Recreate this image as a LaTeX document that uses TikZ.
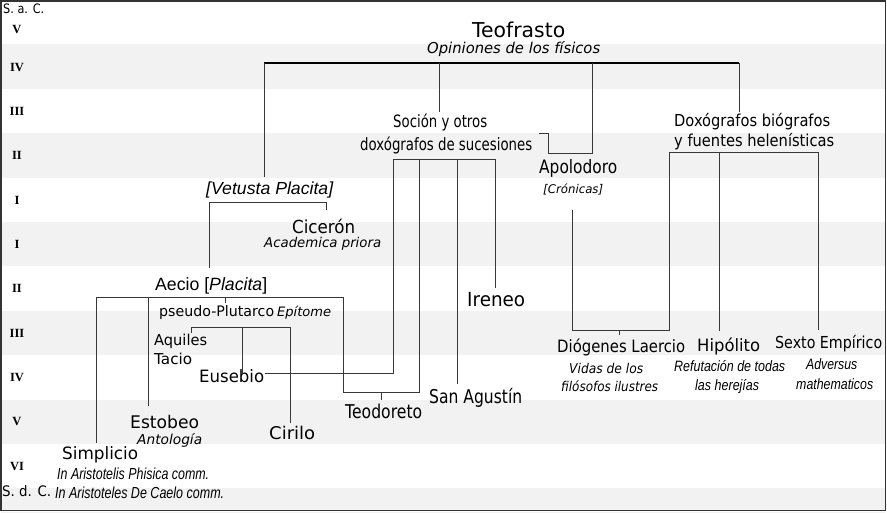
\documentclass[tikz,border=0pt]{standalone}
\usepackage{fontspec}
\usepackage{graphicx}
\setmainfont{DejaVu Sans}
\newfontfamily\libs{Liberation Sans}
\newfontfamily\libr{Liberation Serif}
\newlength\fitlen
\newcommand\fitw[2]{\settowidth{\fitlen}{#2}\pgfmathsetmacro\fitr{#1/\fitlen}\scalebox{\fitr}[1]{#2}}
\newcommand\fs[1]{\fontsize{#1}{#1}\selectfont}
\definecolor{band}{HTML}{F2F2F2}
\definecolor{lnc}{HTML}{383838}
\begin{document}
\begin{tikzpicture}[x=1pt,y=-1pt,
  t/.style={inner sep=0pt, anchor=base west},
  rn/.style={inner sep=0pt, anchor=base, font=\libr\bfseries\fs{12.5}},
  ln/.style={line width=1pt, draw=lnc},
  tbar/.style={line width=2pt, draw=black}]
\useasboundingbox (0,0) rectangle (887,512);
% bands
\foreach \y in {44.4,133.2,222,310.8,399.6,488.4}
  \fill[band] (1,\y) rectangle (885,\y+44.4);
\fill[white] (0,510) rectangle (887,512);
% border
\draw[line width=1.6pt, black!80] (0.8,0.8) rectangle (885.4,510.6);

% century labels
\node[t, font=\fs{13}] (sac) at (3,13) {\fitw{41}{S. a. C.}};
\node[t, font=\fs{14.5}] (sdc) at (2,496) {\fitw{49}{S. d. C.}};
\node[rn] (r1) at (17,33) {V};
\node[rn] (r2) at (17,71) {IV};
\node[rn] (r3) at (17,115) {III};
\node[rn] (r4) at (17,159.5) {II};
\node[rn] (r5) at (17,204) {I};
\node[rn] (r6) at (17,248) {I};
\node[rn] (r7) at (17,292) {II};
\node[rn] (r8) at (17,337) {III};
\node[rn] (r9) at (17,381) {IV};
\node[rn] (r10) at (17,425) {V};
\node[rn] (r11) at (17,470) {VI};

% texts
\node[t, font=\fs{20.5}] (teo) at (472,37) {\fitw{93}{Teofrasto}};
\node[t, font=\fs{15}\itshape] (opin) at (427,53) {\fitw{173}{Opiniones de los físicos}};
\node[t, font=\fs{17}] (soc1) at (393,127) {\fitw{94}{Soción y otros}};
\node[t, font=\fs{17}] (soc2) at (360,150) {\fitw{172}{doxógrafos de sucesiones}};
\node[t, font=\fs{18.5}] (apol) at (539,173) {\fitw{78}{Apolodoro}};
\node[t, font=\fs{12}\itshape] (cron) at (543,193) {\fitw{60}{[Crónicas]}};
\node[t, font=\fs{16.5}] (dox1) at (674,126) {\fitw{156}{Doxógrafos biógrafos}};
\node[t, font=\fs{16.5}] (dox2) at (674,146) {\fitw{160}{y fuentes helenísticas}};
\node[t, font=\libs\fs{17.5}\itshape] (vet) at (206,194) {\fitw{127}{[Vetusta Placita]}};
\node[t, font=\fs{18}] (cic) at (292,233) {\fitw{63}{Cicerón}};
\node[t, font=\fs{13.5}\itshape] (acad) at (264,247) {\fitw{117}{Academica priora}};
\node[t, font=\libs\fs{17.8}] (aecio) at (155,290) {\fitw{112}{Aecio [\textit{Placita}]}};
\node[t, font=\fs{14.5}] (pseudo) at (159,316) {\fitw{115}{pseudo-Plutarco}};
\node[t, font=\fs{13}\itshape] (epit) at (277,316) {\fitw{54}{Epítome}};
\node[t, font=\fs{15}] (aqui) at (154,345) {\fitw{53}{Aquiles}};
\node[t, font=\fs{15}] (tacio) at (154,364) {\fitw{38}{Tacio}};
\node[t, font=\fs{17}] (euse) at (199,382) {\fitw{65}{Eusebio}};
\node[t, font=\fs{17.4}] (esto) at (130,428) {\fitw{69}{Estobeo}};
\node[t, font=\fs{13.7}\itshape] (anto) at (137,444) {\fitw{65}{Antología}};
\node[t, font=\fs{17.5}] (ciri) at (269,439) {\fitw{46}{Cirilo}};
\node[t, font=\fs{17}] (simp) at (62,459) {\fitw{76}{Simplicio}};
\node[t, font=\libs\fs{16}\itshape] (inar1) at (57,479) {\fitw{152}{In Aristotelis Phisica comm.}};
\node[t, font=\libs\fs{16}\itshape] (inar2) at (55,498) {\fitw{169}{In Aristoteles De Caelo comm.}};
\node[t, font=\fs{19}] (teod) at (345,418) {\fitw{77}{Teodoreto}};
\node[t, font=\fs{19}] (agus) at (429,403) {\fitw{93}{San Agustín}};
\node[t, font=\fs{19.5}] (iren) at (467,306) {\fitw{58}{Ireneo}};
\node[t, font=\fs{17}] (diog) at (557,352) {\fitw{128}{Diógenes Laercio}};
\node[t, font=\fs{13.5}\itshape] (vid1) at (569,373) {\fitw{74}{Vidas de los}};
\node[t, font=\fs{13.5}\itshape] (vid2) at (561,391) {\fitw{97}{filósofos ilustres}};
\node[t, font=\fs{17}] (hipo) at (697,351) {\fitw{63}{Hipólito}};
\node[t, font=\libs\fs{15}\itshape] (ref1) at (674,371) {\fitw{111}{Refutación de todas}};
\node[t, font=\libs\fs{15}\itshape] (ref2) at (695,390) {\fitw{64}{las herejías}};
\node[t, font=\fs{16.5}] (sext) at (775,348) {\fitw{107}{Sexto Empírico}};
\node[t, font=\libs\fs{15}\itshape] (adv1) at (806,369) {\fitw{51}{Adversus}};
\node[t, font=\libs\fs{15}\itshape] (adv2) at (796,389) {\fitw{77}{mathematicos}};

% junction coordinates
\coordinate (tL) at (264,63);
\coordinate (tR) at (739,63);
\coordinate (tS) at (439,63);
\coordinate (tA) at (592,63);
\coordinate (vetS) at (264,177);
\coordinate (socN) at (439,112);
\coordinate (doxN) at (739,112);
\coordinate (apA) at (592,153);
\coordinate (apB) at (548,153);
\coordinate (apC) at (548,133);
\coordinate (apD) at (539,133);
\coordinate (vL) at (209,202.5);
\coordinate (vR) at (326,202.5);
\coordinate (cicN) at (326,210);
\coordinate (aecN) at (209,268);
\coordinate (aL) at (96.7,297.5);
\coordinate (aR) at (343,297.5);
\coordinate (aE) at (148.3,297.5);
\coordinate (aP) at (225,297.5);
\coordinate (pseN) at (225,303);
\coordinate (simN) at (96.7,443);
\coordinate (estN) at (148.3,406);
\coordinate (tdA) at (343,392);
\coordinate (tdB) at (419,392);
\coordinate (tdT) at (381,392);
\coordinate (tdN) at (381,400);
\coordinate (sbB) at (419,159.3);
\coordinate (pL) at (191.7,327);
\coordinate (pR) at (290,327);
\coordinate (pM) at (242.3,327);
\coordinate (aquN) at (191.7,333);
\coordinate (eusN) at (242.3,374);
\coordinate (cirN) at (290,423);
\coordinate (eusE) at (265,373);
\coordinate (eusB) at (393.3,373);
\coordinate (sbL) at (393.3,159.3);
\coordinate (sbR) at (495.7,159.3);
\coordinate (sbA) at (457.7,159.3);
\coordinate (irN) at (495.7,288);
\coordinate (agN) at (457.7,384);
\coordinate (crS) at (572.5,210);
\coordinate (dlA) at (572.5,330);
\coordinate (dlB) at (669.3,330);
\coordinate (dlT) at (619.3,330);
\coordinate (dlN) at (619.3,335);
\coordinate (dbL) at (669.3,152.7);
\coordinate (dbR) at (818.3,152.7);
\coordinate (dbH) at (719.3,152.7);
\coordinate (hiN) at (719.3,331);
\coordinate (seN) at (818.3,330);

% connectors
\draw[tbar] (tL) -- (tR);
\draw[ln] (tL) -- (vetS);
\draw[ln] (tS) -- (socN);
\draw[ln] (tA) -- (apA) -- (apB) -- (apC) -- (apD);
\draw[ln] (tR) -- (doxN);
\draw[ln] (aecN) -- (vL) -- (vR) -- (cicN);
\draw[ln] (simN) -- (aL) -- (aR) -- (tdA) -- (tdB) -- (sbB);
\draw[ln] (aE) -- (estN);
\draw[ln] (aP) -- (pseN);
\draw[ln] (tdT) -- (tdN);
\draw[ln] (aquN) -- (pL) -- (pR) -- (cirN);
\draw[ln] (pM) -- (eusN);
\draw[ln] (eusE) -- (eusB) -- (sbL) -- (sbR) -- (irN);
\draw[ln] (sbA) -- (agN);
\draw[ln] (crS) -- (dlA) -- (dlB) -- (dbL) -- (dbR) -- (seN);
\draw[ln] (dbH) -- (hiN);
\draw[ln] (dlT) -- (dlN);
\end{tikzpicture}
\end{document}
